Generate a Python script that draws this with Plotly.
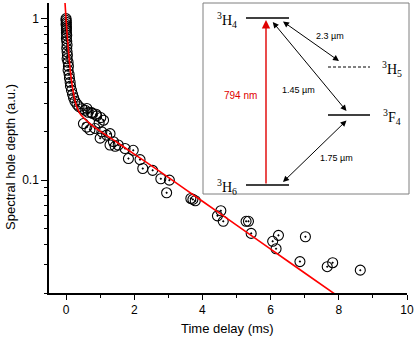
import plotly.graph_objects as go

# ---------------- data ----------------
delay_ms = [
    0.00, 0.00, 0.01, 0.00, 0.01, 0.01, 0.01, 0.01, 0.02, 0.01, 0.02, 0.03, 0.02, 0.03,
    0.04, 0.03, 0.06, 0.07, 0.06, 0.09, 0.10, 0.12, 0.13, 0.16, 0.19, 0.22, 0.26, 0.32,
    0.38, 0.47, 0.56, 0.65, 0.77, 0.88,
    0.61, 0.75, 0.90, 1.02, 1.10, 0.97, 0.51, 0.61, 0.70, 0.85, 1.05, 1.00, 1.19, 1.29,
    1.39, 1.29, 1.53, 1.73, 1.44, 1.97, 1.83, 2.17, 2.25, 2.54, 2.78, 3.03, 2.95,
    3.66, 3.72, 3.79, 4.54, 4.44, 4.61, 5.28, 5.35, 5.43, 6.23, 6.06, 6.16, 7.02,
    6.86, 7.66, 7.82, 8.63,
]
hole_depth = [
    1.000, 0.976, 0.948, 0.922, 0.896, 0.871, 0.847, 0.817, 0.789, 0.755, 0.724, 0.688,
    0.655, 0.623, 0.593, 0.564, 0.537, 0.507, 0.479, 0.452, 0.428, 0.404, 0.382, 0.360,
    0.340, 0.324, 0.308, 0.295, 0.285, 0.277, 0.271, 0.263, 0.259, 0.256,
    0.278, 0.262, 0.250, 0.244, 0.235, 0.226, 0.224, 0.213, 0.205, 0.209, 0.199, 0.182,
    0.190, 0.194, 0.173, 0.165, 0.165, 0.157, 0.162, 0.153, 0.136, 0.134, 0.118, 0.115,
    0.102, 0.100, 0.0835, 0.077, 0.076, 0.0745, 0.0646, 0.0601, 0.0556, 0.0556, 0.0556,
    0.0468, 0.0455, 0.0418, 0.0376, 0.0446, 0.0313, 0.0291, 0.0308, 0.0277,
]

fit_ms = [-0.05, -0.03, 0.0, 0.025, 0.05, 0.075, 0.1, 0.15, 0.2, 0.25, 0.3, 0.4, 0.5,
          0.7, 1.0, 1.5, 2.0, 3.0, 4.0, 5.0, 6.0, 7.0, 7.9]
fit_depth = [1.47, 1.25, 1.0, 0.84, 0.716, 0.618, 0.54, 0.43, 0.362, 0.318, 0.29, 0.26,
             0.245, 0.224, 0.201, 0.171, 0.145, 0.104, 0.074, 0.0526, 0.0374, 0.0266, 0.0196]

x_ticks = [0, 2, 4, 6, 8, 10]
x_minor = [1, 3, 5, 7, 9]
y_ticks = [0.1, 1]
y_ticktext = ["0.1", "1"]
y_minor = [0.02, 0.03, 0.04, 0.05, 0.06, 0.07, 0.08, 0.09,
           0.2, 0.3, 0.4, 0.5, 0.6, 0.7, 0.8, 0.9]

# ---------------- figure ----------------
W, H = 415, 338
L, R, T, B = 49, 8, 3, 45
PW, PH = W - L - R, H - T - B


def PX(x):
    return (x - L) / PW


def PY(y):
    return (H - B - y) / PH


SANS = "Liberation Sans, Arial, sans-serif"
SERIF = "Liberation Serif, Times New Roman, serif"

fig = go.Figure()
fig.add_trace(go.Scatter(
    x=delay_ms, y=hole_depth, mode="markers",
    marker=dict(symbol="circle-open-dot", size=10, color="black", line=dict(width=1.1)),
    showlegend=False, cliponaxis=False,
))
fig.add_trace(go.Scatter(
    x=fit_ms, y=fit_depth, mode="lines",
    line=dict(color="#ff0000", width=1.6, shape="spline", smoothing=0.6),
    showlegend=False,
))

shapes = []
# inset box
shapes.append(dict(type="rect", xref="paper", yref="paper",
                   x0=PX(203), x1=PX(409), y0=PY(194), y1=PY(3),
                   line=dict(color="#7f7f7f", width=1), fillcolor="white", layer="above"))


def level(x0, x1, y, dash="solid", w=1.6):
    shapes.append(dict(type="line", xref="paper", yref="paper",
                       x0=PX(x0), x1=PX(x1), y0=PY(y), y1=PY(y),
                       line=dict(color="black", width=w, dash=dash), layer="above"))


level(246, 289, 18)
level(246, 289, 185)
level(328, 370, 67, dash="3px,2px", w=1)
level(328, 370, 115, w=1.4)

annotations = []


def label(x, y, text, size, color="black", family=SANS):
    annotations.append(dict(xref="paper", yref="paper", x=PX(x), y=PY(y), text=text,
                            showarrow=False, xanchor="center", yanchor="middle",
                            font=dict(size=size, color=color, family=family)))


def arrow(xh, yh, xt, yt, color="black", both=True, width=1):
    annotations.append(dict(xref="paper", yref="paper", x=PX(xh), y=PY(yh), text="",
                            showarrow=True, axref="pixel", ayref="pixel",
                            ax=xt - xh, ay=yt - yh,
                            arrowhead=2, startarrowhead=2, arrowsize=1.2, startarrowsize=1.2,
                            arrowwidth=width, arrowcolor=color,
                            arrowside="end+start" if both else "end",
                            standoff=0, startstandoff=0))


arrow(266, 20, 266, 185, color="#e00000", both=False, width=1.4)
arrow(346.5, 111, 271.5, 20.5)
arrow(339, 61, 281.5, 20.5)
arrow(346.5, 120.5, 281.5, 183.5)

label(227, 20, "<sup>3</sup>H<sub>4</sub>", 14, family=SERIF)
label(227, 187, "<sup>3</sup>H<sub>6</sub>", 14, family=SERIF)
label(392, 69, "<sup>3</sup>H<sub>5</sub>", 14, family=SERIF)
label(392, 117, "<sup>3</sup>F<sub>4</sub>", 14, family=SERIF)
label(240, 96, "794 nm", 10, color="#e00000")
label(330, 36, "2.3 µm", 9)
label(298, 90, "1.45 µm", 9)
label(336, 158, "1.75 µm", 9)

# axis titles
annotations.append(dict(xref="paper", yref="paper", x=PX(10), y=PY(157), text="Spectral hole depth (a.u.)",
                        showarrow=False, textangle=-90, xanchor="center", yanchor="middle",
                        font=dict(size=13, color="black", family=SANS)))
annotations.append(dict(xref="paper", yref="paper", x=PX(227.5), y=PY(328), text="Time delay (ms)",
                        showarrow=False, xanchor="center", yanchor="middle",
                        font=dict(size=13, color="black", family=SANS)))

fig.update_layout(
    width=W, height=H,
    margin=dict(l=L, r=R, t=T, b=B, autoexpand=False),
    paper_bgcolor="white", plot_bgcolor="white",
    font=dict(family=SANS, size=12, color="black"),
    shapes=shapes, annotations=annotations,
    xaxis=dict(range=[-0.5, 10], showgrid=False, zeroline=False, automargin=False,
               showline=True, linecolor="black", linewidth=1.5,
               tickmode="array", tickvals=x_ticks, ticks="outside", ticklen=5,
               tickwidth=1.2, tickcolor="black",
               minor=dict(tickmode="array", tickvals=x_minor, ticks="outside",
                          ticklen=3, tickwidth=1.2, tickcolor="black", showgrid=False),
               tickfont=dict(size=12)),
    yaxis=dict(type="log", range=[-1.69897, 0.09691], showgrid=False, zeroline=False,
               automargin=False,
               showline=True, linecolor="black", linewidth=1.5,
               tickmode="array", tickvals=y_ticks, ticktext=y_ticktext,
               ticks="outside", ticklen=6, tickwidth=1.2, tickcolor="black",
               minor=dict(tickmode="array", tickvals=y_minor, ticks="outside",
                          ticklen=3, tickwidth=1.2, tickcolor="black", showgrid=False),
               tickfont=dict(size=12)),
)

fig.write_html("out.html", config={"displayModeBar": False},
               post_script="document.body.style.margin='0';document.body.style.padding='0';")
